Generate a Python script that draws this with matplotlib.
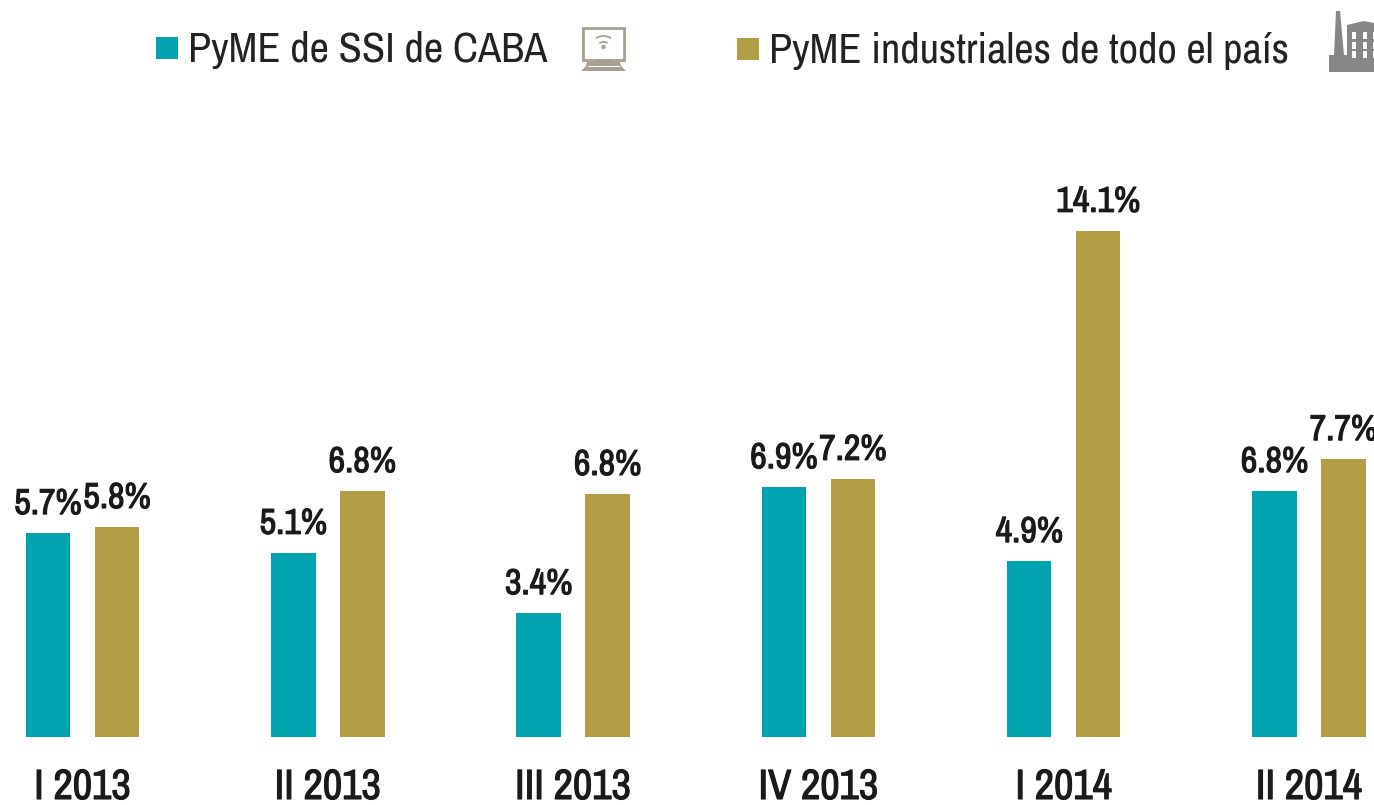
import matplotlib
matplotlib.use('Agg')
import matplotlib.pyplot as plt
import matplotlib.patheffects as pe
import numpy as np
from matplotlib.patches import Rectangle, Polygon, Circle, Wedge
from matplotlib import font_manager as fm

categories = ['I 2013', 'II 2013', 'III 2013', 'IV 2013', 'I 2014', 'II 2014']
ssi_values = [5.68, 5.13, 3.45, 6.96, 4.90, 6.85]
ind_values = [5.85, 6.85, 6.77, 7.19, 14.10, 7.74]
ssi_labels = ['5.7%', '5.1%', '3.4%', '6.9%', '4.9%', '6.8%']
ind_labels = ['5.8%', '6.8%', '6.8%', '7.2%', '14.1%', '7.7%']
ssi_name = 'PyME de SSI de CABA'
ind_name = 'PyME industriales de todo el país'

TEAL = '#00A3B0'
GOLD = '#B39E45'
INK = '#1a1a1a'
W, H = 1374, 805
names = {f.name for f in fm.fontManager.ttflist}
if 'Archivo Narrow' in names:
    FONT = ['Archivo Narrow', 'DejaVu Sans']
    FS_VAL, FS_CAT, FS_LEG = 26, 30.5, 30.5
    BOLD = [pe.withStroke(linewidth=0.8, foreground=INK)]
else:
    FONT = ['Liberation Sans', 'DejaVu Sans']
    FS_VAL, FS_CAT, FS_LEG = 22, 25, 25
    BOLD = [pe.withStroke(linewidth=0.5, foreground=INK)]

fig = plt.figure(figsize=(W / 100, H / 100), dpi=100, facecolor='white')
ax = fig.add_axes([0, 0, 1, 1])
unit_x, unit_y, x0, y0 = 245.3, 35.9, 82.5, 737
ax.set_xlim(-x0 / unit_x, (W - x0) / unit_x)
ax.set_ylim(-(H - y0) / unit_y, y0 / unit_y)
ax.axis('off')

x = np.arange(len(categories))
off, bw = 34.5 / unit_x, 44.5 / unit_x
ax.bar(x - off, ssi_values, bw, color=TEAL)
ax.bar(x + off, ind_values, bw, color=GOLD)
for i in x:
    ax.annotate(ssi_labels[i], (i - off, ssi_values[i]), xytext=(0, 13), textcoords='offset pixels',
                ha='center', va='bottom', family=FONT, weight='bold', fontsize=FS_VAL, color=INK, path_effects=BOLD)
    ax.annotate(ind_labels[i], (i + off, ind_values[i]), xytext=(0, 13), textcoords='offset pixels',
                ha='center', va='bottom', family=FONT, weight='bold', fontsize=FS_VAL, color=INK,
                annotation_clip=False, path_effects=BOLD)
    ax.annotate(categories[i], (i, 0), xytext=(0, -69), textcoords='offset pixels',
                ha='center', va='bottom', family=FONT, weight='bold', fontsize=FS_CAT, color=INK, path_effects=BOLD)

ov = fig.add_axes([0, 0, 1, 1], facecolor='none')
ov.set_xlim(0, W); ov.set_ylim(H, 0); ov.axis('off')
ov.add_patch(Rectangle((156, 37), 22, 22, color=TEAL, lw=0))
ov.add_patch(Rectangle((737, 38), 22, 22, color=GOLD, lw=0))
ov.text(188, 50, ssi_name, family=FONT, fontsize=FS_LEG, color='#222222', va='center', ha='left')
ov.text(769, 51, ind_name, family=FONT, fontsize=FS_LEG, color='#222222', va='center', ha='left')

C = '#A89F91'
ov.add_patch(Rectangle((583, 28), 41, 32, fc='white', ec=C, lw=2))
ov.add_patch(Polygon([[597, 59], [611, 59], [612, 62], [620, 62], [621, 66], [626, 71], [581, 71], [586, 66], [587, 62], [596, 62]], fc=C, ec='none'))
ov.add_patch(Rectangle((588, 66), 32, 1.2, fc='white', ec='none'))
ov.add_patch(Circle((603.5, 47), 2.2, fc=C, ec='none'))
for r in (8, 14):
    ov.add_patch(Wedge((603.5, 49), r, 235, 305, width=1.8, fc=C, ec='none'))

F = '#868686'
ov.add_patch(Polygon([[1336, 11], [1340, 11], [1344, 55], [1334, 55]], fc=F, ec='none'))
ov.add_patch(Polygon([[1329, 55], [1347, 55], [1347, 25], [1364, 21], [1374, 23], [1374, 72], [1329, 72]], fc=F, ec='none'))
for wx in (1352, 1363, 1373):
    for wy in (32, 42, 51):
        ov.add_patch(Rectangle((wx, wy), 3.5, 7, fc='white', ec='none'))
fig.savefig('out.png', dpi=100)
